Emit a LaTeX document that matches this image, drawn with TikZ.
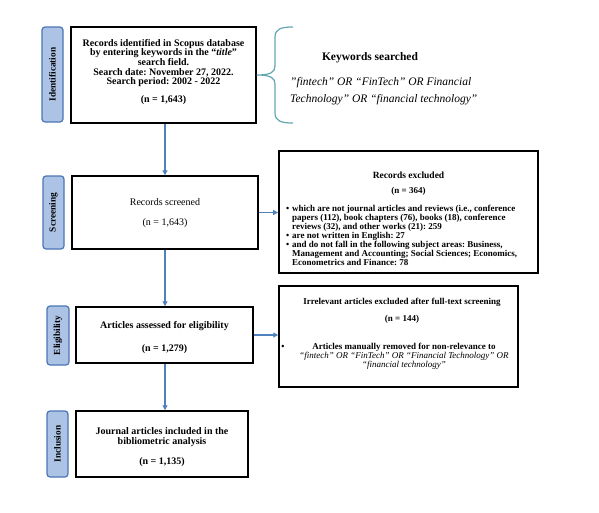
\documentclass[tikz,border=0pt]{standalone}
\usepackage{fontspec}
\setmainfont{Liberation Serif}
\usetikzlibrary{arrows.meta}
\frenchspacing
\definecolor{arrowblue}{RGB}{79,129,189}
\definecolor{lblfill}{RGB}{172,195,229}
\definecolor{lbldraw}{RGB}{74,118,180}
\definecolor{bracecol}{RGB}{100,165,180}
\newcommand\exbul{\makebox[6pt][l]{\textbullet}}
\newcommand\exind{\hspace*{6pt}}
\begin{document}
\begin{tikzpicture}[x=1pt,y=-1pt,
  box/.style={draw=black, line width=1.5pt, fill=white, inner sep=0pt},
  lbl/.style={draw=lbldraw, fill=lblfill, line width=1.2pt, rounded corners=3pt, rotate=90, inner sep=0pt, font=\fontsize{9.3}{10}\selectfont\bfseries},
  txt/.style={align=center, inner sep=0pt, font=\fontsize{10}{9.6}\selectfont\bfseries},
  smtxt/.style={align=center, inner sep=0pt, font=\fontsize{9}{8.9}\selectfont\bfseries},
  arr/.style={draw=arrowblue, line width=1.2pt, -{Triangle[length=5pt,width=5pt]}},
]
\useasboundingbox (0,0) rectangle (599,512);

% stage labels
\node[lbl, minimum width=95, minimum height=21] (lid) at (52.5,74.5) {Identification};
\node[lbl, minimum width=73, minimum height=21] (lsc) at (53.5,212.5) {Screening};
\node[lbl, minimum width=59, minimum height=22] (lel) at (58,335.5) {Eligibility};
\node[lbl, minimum width=66, minimum height=21] (lin) at (57.5,444) {Inclusion};

% main boxes
\node[box, minimum width=185, minimum height=96] (ident) at (163.5,75) {};
\node[box, minimum width=186, minimum height=73] (screen) at (165,212.5) {};
\node[box, minimum width=177, minimum height=56] (elig) at (164.5,335) {};
\node[box, minimum width=172, minimum height=66] (incl) at (162,444) {};
\node[box, minimum width=259, minimum height=122, line width=1.8pt] (excl) at (408.5,212) {};
\node[box, minimum width=239, minimum height=101] (irr) at (398.5,336.5) {};

% texts
\node[txt] (identt) at (163.5,63) {Records identified in Scopus database\\by entering keywords in the “\textit{title}”\\search field.\\Search date: November 27, 2022.\\Search period: 2002 - 2022};
\node[txt] (identn) at (163.5,100) {(n = 1,643)};

\node[txt, font=\fontsize{10}{9}\selectfont] (screent) at (165,202) {Records screened};
\node[txt, font=\fontsize{10}{9}\selectfont] (screenn) at (165,223) {(n = 1,643)};

\node[txt] (eligt) at (164.5,326) {Articles assessed for eligibility};
\node[txt] (eligs) at (164.5,349) {(n = 1,279)};

\node[txt] (inclt) at (162,437) {Journal articles included in the\\bibliometric analysis};
\node[txt] (incln) at (162,462) {(n = 1,135)};

\node[smtxt, font=\fontsize{9.5}{9}\selectfont\bfseries] (exclt) at (408.5,175) {Records excluded};
\node[smtxt] (excln) at (408.5,191) {(n = 364)};
\node[smtxt, align=left, anchor=west] (exclb) at (286,235.4) {\exbul which are not journal articles and reviews (i.e., conference\\
\exind papers (112), book chapters (76), books (18), conference\\
\exind reviews (32), and other works (21): 259\\
\exbul are not written in English: 27\\
\exbul and do not fall in the following subject areas: Business,\\
\exind Management and Accounting; Social Sciences; Economics,\\
\exind Econometrics and Finance: 78};

\node[smtxt] (irrt) at (402,302) {Irrelevant articles excluded after full-text screening};
\node[smtxt] (irrn) at (402,319) {(n = 144)};
\node[smtxt, anchor=center] (irrbul) at (283,347) {\textbullet};
\node[smtxt] (irrb) at (404,356) {Articles manually removed for non-relevance to\\
\mdseries\itshape “fintech” OR “FinTech” OR “Financial Technology” OR\\
\mdseries\itshape “financial technology”};

% keywords
\node[inner sep=0pt, font=\fontsize{11.5}{12}\selectfont\bfseries] (kwt) at (370,58) {Keywords searched};
\node[inner sep=0pt, anchor=west, font=\fontsize{11.5}{12}\selectfont\itshape] (kw1) at (290,83) {"fintech" OR “FinTech” OR Financial};
\node[inner sep=0pt, anchor=west, font=\fontsize{11.5}{12}\selectfont\itshape] (kw2) at (290,100) {Technology” OR “financial technology”};

% brace
\draw[bracecol, line width=1.2pt] (293,27) .. controls (281,27) and (275,29) .. (275,37) -- (275,66) .. controls (275,72) and (271,75) .. (ident.east |- 0,75) .. controls (271,75) and (275,78) .. (275,84) -- (275,113) .. controls (275,121) and (281,123) .. (293,123);

% arrows
\coordinate (ax) at (165,0);
\draw[arr] (ident.south -| ax) -- (screen.north -| ax);
\draw[arr] (screen.south -| ax) -- (elig.north -| ax);
\draw[arr] (elig.south -| ax) -- (incl.north -| ax);
\draw[arr] (screen.east) -- (screen.east -| excl.west);
\draw[arr] (elig.east) -- (elig.east -| irr.west);
\end{tikzpicture}
\end{document}
